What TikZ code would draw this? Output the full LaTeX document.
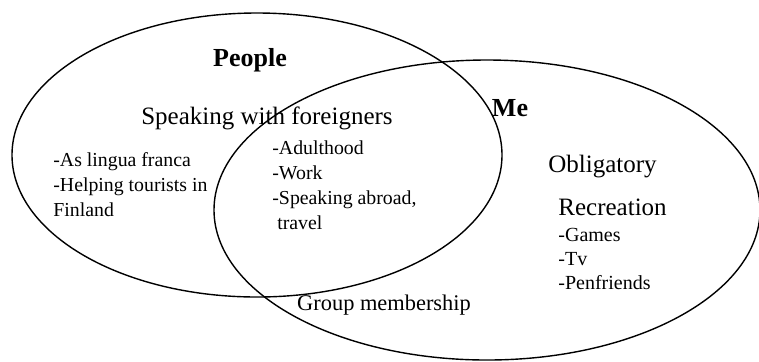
\documentclass[tikz,border=0pt]{standalone}
\usepackage{fontspec}
\setmainfont{Liberation Serif}
\usepackage{tikz}

\begin{document}
\begin{tikzpicture}[x=0.5pt, y=-0.5pt, circ/.style={line width=0.7pt}, head/.style={font=\bfseries\fontsize{13}{15}\selectfont}, topic/.style={inner sep=0pt, font=\fontsize{12.5}{14}\selectfont}, list/.style={align=left, inner sep=0pt, font=\fontsize{9.9}{12.5}\selectfont}, small/.style={align=left, inner sep=0pt, font=\fontsize{10}{12}\selectfont}]
        \useasboundingbox (0,0) rectangle (759,361);
        % Circles
        \draw[circ] (257,155) ellipse [x radius=245, y radius=142];
        \draw[circ] (487,210) ellipse [x radius=273, y radius=150];
        % Headings
        \node[head] (P) at (250,60) {People};
        \node[head] (M) at (510,108) {Me};
        % People
        \node[topic] (F) at (267,118) {Speaking with foreigners};
        \node[list,anchor=north west] (FL) at (53,152) {-As lingua franca\\-Helping tourists in\\Finland};
        % Both
        \node[list,anchor=north west] (BL) at (272,140) {-Adulthood\\-Work\\-Speaking abroad,\\\ travel};
        \node[topic,font=\fontsize{11.2}{13}\selectfont] (G) at (384,305) {Group membership};
        % Me
        \node[topic,anchor=west] (O) at (548,167) {Obligatory};
        \node[topic,anchor=west] (R) at (558,207) {Recreation};
        \node[small,anchor=north west] (RL) at (558,228) {-Games\\-Tv\\-Penfriends};
    \end{tikzpicture}
\end{document}
